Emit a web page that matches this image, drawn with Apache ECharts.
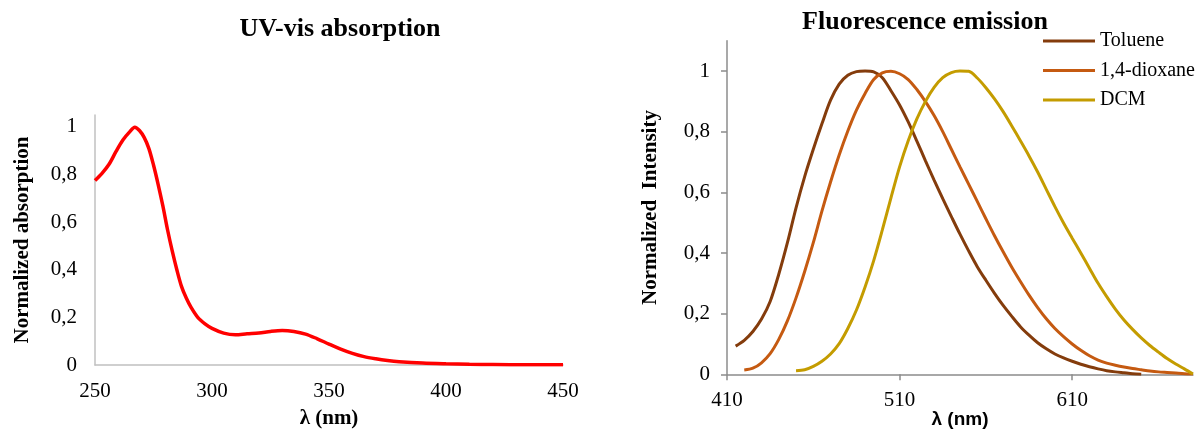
<!DOCTYPE html>
<html>
<head>
<meta charset="utf-8">
<script src="https://cdn.jsdelivr.net/npm/echarts@6/dist/echarts.min.js"></script>
<style>
html,body{margin:0;padding:0;background:#fff;}
#chart{width:1203px;height:431px;}
</style>
</head>
<body>
<div id="chart"></div>
<script>
// UV-vis absorption
const uvNm  = [250,253,256,259,262,265,267,269,271,273,275,277,279,281,283,285,287,289,291,294,297,300,305,310,315,320,325,330,335,340,345,350,355,360,365,370,375,380,390,400,410,420,435,450];
const uvAbs = [0.775,0.805,0.843,0.897,0.946,0.981,0.999,0.985,0.956,0.91,0.84,0.758,0.668,0.568,0.479,0.399,0.329,0.281,0.243,0.199,0.173,0.154,0.134,0.127,0.131,0.134,0.141,0.145,0.141,0.13,0.11,0.088,0.067,0.049,0.035,0.026,0.019,0.014,0.008,0.005,0.003,0.002,0.001,0.001];

// Fluorescence emission
const toluNm  = [415,420,425,430,435,440,445,450,455,460,465,470,475,480,485,490,495,500,505,510,515,520,525,530,535,540,545,550,555,560,565,570,575,580,585,590,595,600,605,610,615,620,625,630,635,640,645,650];
const toluVal = [0.093,0.112,0.141,0.182,0.24,0.33,0.434,0.549,0.652,0.742,0.826,0.904,0.957,0.986,0.998,1.0,0.997,0.978,0.935,0.888,0.832,0.769,0.704,0.64,0.579,0.52,0.462,0.407,0.355,0.31,0.267,0.227,0.191,0.157,0.129,0.104,0.084,0.067,0.054,0.043,0.033,0.025,0.018,0.012,0.008,0.005,0.002,0.0];

const dioxNm  = [420,425,430,435,440,445,450,455,460,465,470,475,480,485,490,495,500,505,510,515,520,525,530,535,540,545,550,555,560,565,570,575,580,585,590,595,600,605,610,615,620,625,630,635,640,645,650,655,660,665,670,675,680];
const dioxVal = [0.014,0.02,0.038,0.068,0.115,0.176,0.252,0.339,0.434,0.538,0.634,0.723,0.802,0.871,0.926,0.972,0.994,0.999,0.991,0.972,0.939,0.899,0.853,0.8,0.742,0.684,0.627,0.57,0.513,0.457,0.404,0.353,0.306,0.261,0.22,0.183,0.151,0.124,0.1,0.079,0.061,0.047,0.037,0.03,0.024,0.019,0.015,0.011,0.008,0.006,0.004,0.002,0.001];

const dcmNm  = [450,455,460,465,470,475,480,485,490,495,500,505,510,515,520,525,530,535,540,545,550,555,560,565,570,575,580,585,590,595,600,605,610,615,620,625,630,635,640,645,650,655,660,665,670,675,680];
const dcmVal = [0.012,0.015,0.026,0.043,0.067,0.101,0.151,0.212,0.288,0.375,0.476,0.582,0.684,0.77,0.842,0.9,0.946,0.978,0.995,1.0,0.999,0.977,0.945,0.908,0.866,0.819,0.77,0.72,0.667,0.61,0.553,0.499,0.449,0.4,0.35,0.3,0.256,0.215,0.179,0.148,0.12,0.095,0.073,0.052,0.034,0.018,0.001];

const yTicks = [0,0.2,0.4,0.6,0.8,1];
const uvXTicks = [250,300,350,400,450];
const flXTicks = [410,510,610];

function pairs(xs, ys){ return xs.map((x,i)=>[x, ys[i]]); }
const comma = v => String(+v.toFixed(2)).replace('.', ',');

const serif = 'Liberation Serif';
const chart = echarts.init(document.getElementById('chart'), null, {renderer:'canvas'});

chart.setOption({
  animation:false,
  backgroundColor:'#fff',
  title:[
    {text:'UV-vis absorption', left:340, top:16, textAlign:'center', padding:0,
     textStyle:{fontFamily:serif, fontWeight:'bold', fontSize:26, color:'#000'}},
    {text:'Fluorescence emission', left:925, top:9, textAlign:'center', padding:0,
     textStyle:{fontFamily:serif, fontWeight:'bold', fontSize:26, color:'#000'}}
  ],
  legend:{
    orient:'vertical', left:1043, top:31, padding:0,
    icon:'rect', itemWidth:52, itemHeight:3, itemGap:9.5,
    data:['Toluene','1,4-dioxane','DCM'],
    textStyle:{fontFamily:serif, fontSize:20, lineHeight:20, color:'#000'}
  },
  grid:[
    {left:95, right:640, top:115, bottom:66, outerBoundsMode:'none', containLabel:false},
    {left:727, right:10, top:40.7, bottom:56.7, outerBoundsMode:'none', containLabel:false}
  ],
  xAxis:[
    {type:'value', gridIndex:0, min:250, max:450, interval:50,
     name:'λ (nm)', nameLocation:'middle', nameGap:43, nameMoveOverlap:false,
     nameTextStyle:{fontFamily:serif, fontWeight:'bold', fontSize:21, color:'#000'},
     axisLine:{lineStyle:{color:'#c0c0c0', width:1.5}},
     axisTick:{show:false},
     axisLabel:{fontFamily:serif, fontSize:21, color:'#000', margin:16, customValues:uvXTicks},
     splitLine:{show:false}},
    {type:'value', gridIndex:1, min:410, max:680,
     name:'λ (nm)', nameLocation:'middle', nameGap:36, nameMoveOverlap:false,
     nameTextStyle:{fontFamily:'Liberation Sans', fontWeight:'bold', fontSize:19, color:'#000'},
     axisLine:{lineStyle:{color:'#8c8c8c', width:1.5}},
     axisTick:{show:true, length:6, lineStyle:{color:'#8c8c8c', width:1.5}, customValues:flXTicks},
     axisLabel:{fontFamily:serif, fontSize:21, color:'#000', margin:16, customValues:flXTicks},
     splitLine:{show:false}}
  ],
  yAxis:[
    {type:'value', gridIndex:0, min:0, max:1.05,
     name:'Normalized absorption', nameLocation:'middle', nameGap:62, nameRotate:90, nameMoveOverlap:false,
     nameTextStyle:{fontFamily:serif, fontWeight:'bold', fontSize:21, color:'#000'},
     axisLine:{show:true, lineStyle:{color:'#c0c0c0', width:1.5}},
     axisTick:{show:false},
     axisLabel:{fontFamily:serif, fontSize:21, color:'#000', margin:18, customValues:yTicks, formatter:comma},
     splitLine:{show:false}},
    {type:'value', gridIndex:1, min:0, max:1.1,
     name:'Normalized  Intensity', nameLocation:'middle', nameGap:66, nameRotate:90, nameMoveOverlap:false,
     nameTextStyle:{fontFamily:serif, fontWeight:'bold', fontSize:21, color:'#000'},
     axisLine:{show:true, lineStyle:{color:'#8c8c8c', width:1.5}},
     axisTick:{show:true, length:6, lineStyle:{color:'#8c8c8c', width:1.5}, customValues:yTicks},
     axisLabel:{fontFamily:serif, fontSize:21, color:'#000', margin:17, customValues:yTicks, formatter:comma},
     splitLine:{show:false}}
  ],
  series:[
    {name:'UV', type:'line', xAxisIndex:0, yAxisIndex:0, data:pairs(uvNm, uvAbs),
     smooth:0.3, symbol:'none', lineStyle:{color:'#ff0000', width:3.5}, itemStyle:{color:'#ff0000'}},
    {name:'Toluene', type:'line', xAxisIndex:1, yAxisIndex:1, data:pairs(toluNm, toluVal),
     smooth:0.3, symbol:'none', lineStyle:{color:'#843c0c', width:3}, itemStyle:{color:'#843c0c'}},
    {name:'1,4-dioxane', type:'line', xAxisIndex:1, yAxisIndex:1, data:pairs(dioxNm, dioxVal),
     smooth:0.3, symbol:'none', lineStyle:{color:'#c55a11', width:3}, itemStyle:{color:'#c55a11'}},
    {name:'DCM', type:'line', xAxisIndex:1, yAxisIndex:1, data:pairs(dcmNm, dcmVal),
     smooth:0.3, symbol:'none', lineStyle:{color:'#c49c00', width:3}, itemStyle:{color:'#c49c00'}}
  ]
});
</script>
</body>
</html>
